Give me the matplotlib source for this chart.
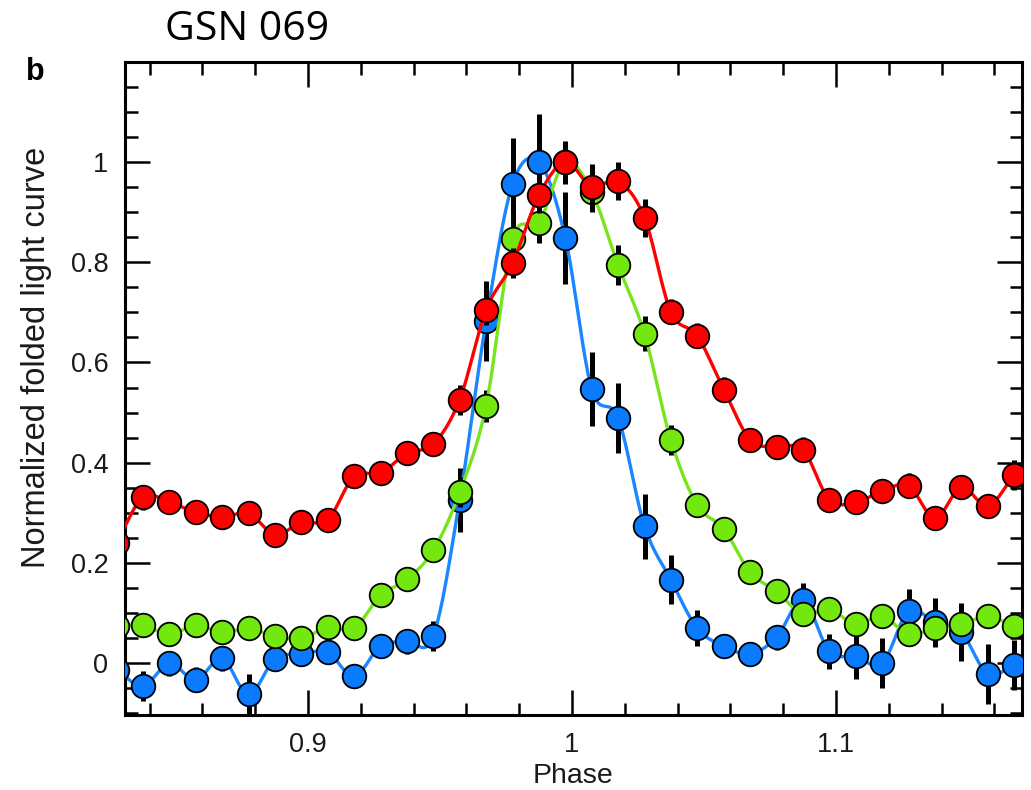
import numpy as np
import matplotlib
matplotlib.use('Agg')
import matplotlib.pyplot as plt
from matplotlib.ticker import MultipleLocator

# Phase bins (centres)
phase = [0.8275, 0.8375, 0.8475, 0.8575, 0.8675, 0.8775, 0.8875, 0.8975,
         0.9075, 0.9175, 0.9275, 0.9375, 0.9475, 0.9575, 0.9675, 0.9775,
         0.9875, 0.9975, 1.0075, 1.0175, 1.0275, 1.0375, 1.0475, 1.0575,
         1.0675, 1.0775, 1.0875, 1.0975, 1.1075, 1.1175, 1.1275, 1.1375,
         1.1475, 1.1575, 1.1675]

red = [0.240, 0.331, 0.321, 0.301, 0.291, 0.299, 0.256, 0.281, 0.286,
       0.373, 0.379, 0.419, 0.437, 0.526, 0.705, 0.798, 0.934, 1.000,
       0.951, 0.962, 0.889, 0.701, 0.653, 0.546, 0.446, 0.431, 0.426,
       0.326, 0.321, 0.343, 0.354, 0.289, 0.351, 0.313, 0.375]
red_err = [0.02, 0.025, 0.02, 0.02, 0.02, 0.02, 0.02, 0.02, 0.02,
           0.02, 0.02, 0.02, 0.02, 0.03, 0.03, 0.03, 0.035, 0.043,
           0.045, 0.038, 0.038, 0.025, 0.025, 0.025, 0.02, 0.02, 0.025,
           0.02, 0.02, 0.02, 0.025, 0.02, 0.02, 0.02, 0.03]

green = [0.074, 0.075, 0.057, 0.075, 0.061, 0.069, 0.053, 0.049, 0.071,
         0.069, 0.135, 0.167, 0.225, 0.341, 0.514, 0.846, 0.879, 1.000,
         0.940, 0.794, 0.657, 0.445, 0.315, 0.268, 0.181, 0.143, 0.097,
         0.107, 0.077, 0.094, 0.057, 0.069, 0.077, 0.093, 0.073]
green_err = [0.02, 0.02, 0.02, 0.02, 0.02, 0.02, 0.02, 0.02, 0.02,
             0.02, 0.02, 0.02, 0.02, 0.03, 0.032, 0.04, 0.04, 0.04,
             0.04, 0.04, 0.035, 0.03, 0.02, 0.02, 0.02, 0.02, 0.02,
             0.02, 0.02, 0.02, 0.02, 0.02, 0.02, 0.02, 0.02]

blue = [-0.014, -0.046, -0.001, -0.034, 0.009, -0.063, 0.008, 0.018, 0.021,
        -0.027, 0.034, 0.043, 0.054, 0.326, 0.683, 0.956, 1.000, 0.849,
        0.547, 0.489, 0.273, 0.166, 0.069, 0.034, 0.018, 0.051, 0.125,
        0.023, 0.013, -0.001, 0.103, 0.081, 0.061, -0.022, -0.004]
blue_err = [0.03, 0.03, 0.025, 0.025, 0.025, 0.04, 0.02, 0.02, 0.02,
            0.02, 0.02, 0.025, 0.03, 0.064, 0.08, 0.093, 0.097, 0.092,
            0.073, 0.07, 0.065, 0.049, 0.036, 0.02, 0.02, 0.025, 0.035,
            0.035, 0.045, 0.05, 0.045, 0.049, 0.058, 0.06, 0.05]


def catmull_rom(x, y, n=20):
    # smooth connector through the points
    x = np.asarray(x, float)
    y = np.asarray(y, float)
    px = np.concatenate([[2 * x[0] - x[1]], x, [2 * x[-1] - x[-2]]])
    py = np.concatenate([[2 * y[0] - y[1]], y, [2 * y[-1] - y[-2]]])
    t = np.linspace(0, 1, n, endpoint=False)
    xs, ys = [], []
    for i in range(1, len(px) - 2):
        for p, out in ((px, xs), (py, ys)):
            p0, p1, p2, p3 = p[i - 1], p[i], p[i + 1], p[i + 2]
            out.append(0.5 * (2 * p1 + (-p0 + p2) * t
                              + (2 * p0 - 5 * p1 + 4 * p2 - p3) * t ** 2
                              + (-p0 + 3 * p1 - 3 * p2 + p3) * t ** 3))
    xs.append([x[-1]])
    ys.append([y[-1]])
    return np.concatenate(xs), np.concatenate(ys)


plt.rcParams['font.family'] = ['Liberation Sans', 'DejaVu Sans']

fig = plt.figure(figsize=(10.31, 7.9), dpi=100)
ax = fig.add_axes([0.1212, 0.0949, 0.8701, 0.8266])

series = [
    (blue, blue_err, '#1a86ff', '#0a7bff', 2),
    (green, green_err, '#78e41c', '#72e80e', 5),
    (red, red_err, '#ff0000', '#ff0000', 8),
]
for vals, err, lc, fc, z in series:
    ax.errorbar(phase, vals, yerr=err, fmt='none', ecolor='black',
                elinewidth=3.6, capsize=0, zorder=z)
    sx, sy = catmull_rom(phase, vals)
    ax.plot(sx, sy, color=lc, lw=2.4, zorder=z + 0.5)
    ax.plot(phase, vals, 'o', ms=17, mfc=fc, mec='black', mew=1.3,
            zorder=z + 1)

ax.set_xlim(0.8307, 1.1705)
ax.set_ylim(-0.104, 1.2)
ax.xaxis.set_minor_locator(MultipleLocator(0.02))
ax.yaxis.set_minor_locator(MultipleLocator(0.05))
ax.set_xticks([0.9, 1.0, 1.1])
ax.set_xticklabels(['0.9', '1', '1.1'])
ax.set_yticks([0, 0.2, 0.4, 0.6, 0.8, 1.0])
ax.set_yticklabels(['0', '0.2', '0.4', '0.6', '0.8', '1'])

ax.tick_params(which='both', direction='in', top=True, right=True,
               width=1.8, labelsize=19.5, pad=12, colors='black',
               labelcolor='#1a1a1a')
ax.tick_params(which='major', length=18)
ax.tick_params(which='minor', length=9)
for s in ax.spines.values():
    s.set_linewidth(2.2)

ax.set_xlabel('Phase', fontsize=20.5, labelpad=4, color='#1a1a1a')
ax.set_ylabel('Normalized folded light curve', fontsize=23.5,
              color='#1a1a1a')
ax.yaxis.set_label_coords(-0.081, 0.547)

fig.text(0.025, 0.909, 'b', fontsize=22, fontweight='bold', va='center')
fig.text(0.16, 0.962, 'GSN 069', fontsize=29.5,
         family=['Open Sans', 'DejaVu Sans'], va='center', ha='left')

fig.savefig('out.png', dpi=100)
